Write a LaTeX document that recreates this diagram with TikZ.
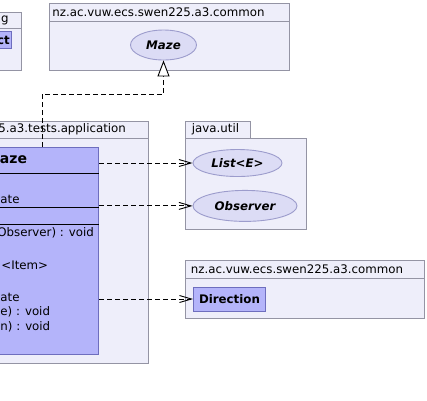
\documentclass[tikz,border=0pt]{standalone}
\usepackage{fontspec}
\setmainfont{DejaVu Sans}
\usetikzlibrary{arrows.meta,positioning,shapes.geometric}
\definecolor{PkgFill}{HTML}{EEEEFA}
\definecolor{PkgLine}{HTML}{9494A4}
\definecolor{ClassFill}{HTML}{B4B4FA}
\definecolor{ClassLine}{HTML}{6E6EBE}
\definecolor{IfaceFill}{HTML}{DCDCF5}
\definecolor{IfaceLine}{HTML}{9C9CCC}

\begin{document}
\begin{tikzpicture}[x=1pt,y=-1pt,line width=0.9pt,
    font=\fontsize{11.8}{13}\selectfont,
    pkg/.style={draw=PkgLine,fill=PkgFill},
    pkglabel/.style={anchor=west,inner sep=0pt},
    iface/.style={ellipse,draw=IfaceLine,fill=IfaceFill,inner sep=0pt,font=\fontsize{11.8}{13}\selectfont\bfseries\itshape},
    cls/.style={draw=ClassLine,fill=ClassFill,inner sep=0pt,font=\fontsize{11.8}{13}\selectfont\bfseries},
    member/.style={anchor=west,inner sep=0pt},
    dep/.style={dash pattern=on 5pt off 3pt,-{Straight Barb[length=12pt,width=7pt]}},
    realize/.style={dash pattern=on 5pt off 3pt,-{Triangle[open,fill=white,length=16pt,width=12pt]}}
  ]
    \path[fill=white,use as bounding box] (0,0) rectangle (427,400);
    \clip (0,0) rectangle (427,400);
    % packages
    \draw[pkg] (-40,12) rectangle (21.7,28);
    \draw[pkg] (-40,28) rectangle (21.7,70);
    \node[pkglabel] (pkgleft) at (0.7,20) {g};
    \draw[pkg] (49,3) rectangle (289,21);
    \draw[pkg] (49,21) rectangle (289,70);
    \node[pkglabel] (pkgcommon) at (52,12) {nz.ac.vuw.ecs.swen225.a3.common};
    \draw[pkg] (-40,121) rectangle (148,138);
    \draw[pkg] (-40,138) rectangle (148,363);
    \node[pkglabel] (pkgtests) at (-2,129.5) {5.a3.tests.application};
    \draw[pkg] (185,121) rectangle (250,138);
    \draw[pkg] (185,138) rectangle (306,229);
    \node[pkglabel] (pkgutil) at (191.5,129.5) {java.util};
    \draw[pkg] (185,260) rectangle (424,278);
    \draw[pkg] (185,278) rectangle (424,318);
    \node[pkglabel] (pkgcommon2) at (190.5,269) {nz.ac.vuw.ecs.swen225.a3.common};
    % types
    \node[cls,anchor=east,inner xsep=2pt,minimum height=17pt] (ctbox) at (12.3,40) {ct};
    \node[iface,minimum width=66pt,minimum height=30pt] (mazeif) at (163.5,45) {Maze};
    \node[iface,minimum width=89pt,minimum height=27pt] (list) at (237.5,163) {List<E>};
    \node[iface,minimum width=104pt,minimum height=31pt,below=13pt of list,xshift=7.5pt] (observer) {Observer};
    \node[cls,minimum width=72pt,minimum height=24pt] (direction) at (229.5,299) {Direction};
    \node[cls,anchor=north east,minimum width=220pt,minimum height=207pt] (mazecls) at (99,147) {};
    \draw (mazecls.west |- 0,173) -- (mazecls.east |- 0,173);
    \draw (mazecls.west |- 0,207) -- (mazecls.east |- 0,207);
    \draw (mazecls.west |- 0,224) -- (mazecls.east |- 0,224);
    \node[member,font=\fontsize{14}{16}\selectfont\bfseries] (mname) at (-0.5,160) {aze};
    \node[member] (mfield) at (0,199) {ate};
    \node[member] (mop1) at (-3,233) {Observer) : void};
    \node[member] (mop2) at (1,265.5) {<Item>};
    \node[member] (mop3) at (0,297) {ate};
    \node[member] (mop4) at (0,312) {e) : void};
    \node[member] (mop5) at (0,327) {n) : void};
    % connectors
    \coordinate (elbow) at (42,94);
    \draw[realize] (elbow |- mazecls.north) -- (elbow) -| (mazeif.south);
    \draw[dep] (mazecls.east |- list.west) -- (list.west);
    \draw[dep] (mazecls.east |- observer.west) -- (observer.west);
    \draw[dep] (mazecls.east |- direction.west) -- (direction.west);
  \end{tikzpicture}
\end{document}
